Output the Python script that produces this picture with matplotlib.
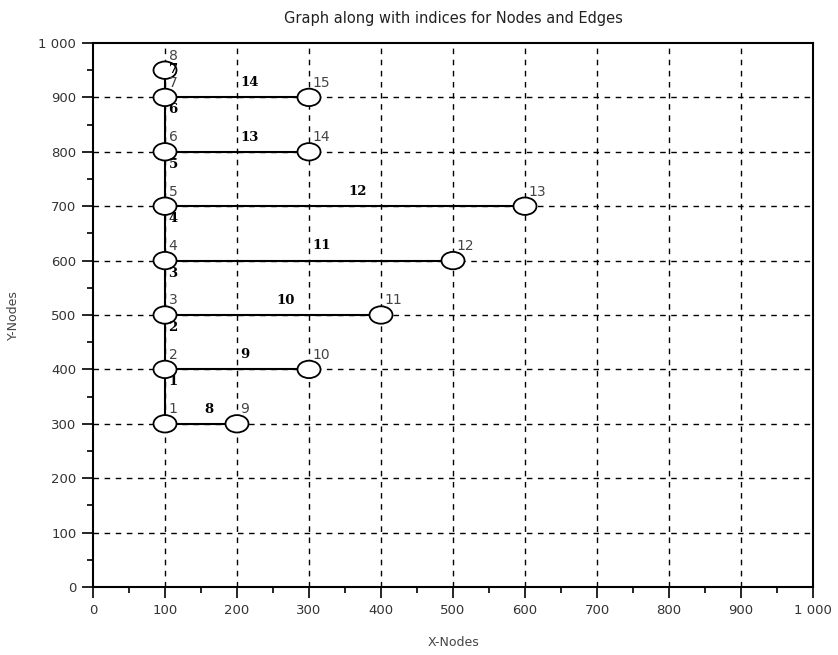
import matplotlib
matplotlib.use("Agg")
import matplotlib.pyplot as plt
from matplotlib.patches import Ellipse
from matplotlib.ticker import FuncFormatter, MultipleLocator

# Node coordinates (index = node number - 1)
node_x = [100, 100, 100, 100, 100, 100, 100, 100, 200, 300, 400, 500, 600, 300, 300]
node_y = [300, 400, 500, 600, 700, 800, 900, 950, 300, 400, 500, 600, 700, 800, 900]

# Edges as (tail, head) node numbers; edge number = position + 1
edge_tail = [1, 2, 3, 4, 5, 6, 7, 1, 2, 3, 4, 5, 6, 7]
edge_head = [2, 3, 4, 5, 6, 7, 8, 9, 10, 11, 12, 13, 14, 15]

x_ticks = list(range(0, 1001, 100))
y_ticks = list(range(0, 1001, 100))

node_diameter = 32
label_dx, label_dy = 5, 27

fig = plt.figure(figsize=(8.38, 6.55), dpi=100)
ax = fig.add_axes([93 / 838, 68 / 655, 720 / 838, 544 / 655])
ax.set_xlim(0, 1000)
ax.set_ylim(0, 1000)

# dashed grid at the inner major ticks
for v in x_ticks[1:-1]:
    ax.plot([v, v], [0, 1000], color="black", lw=1.0, ls=(0, (4, 4)), zorder=1)
for v in y_ticks[1:-1]:
    ax.plot([0, 1000], [v, v], color="black", lw=1.0, ls=(0, (4, 4)), zorder=1)

# edges
for i, (t, h) in enumerate(zip(edge_tail, edge_head)):
    x0, y0 = node_x[t - 1], node_y[t - 1]
    x1, y1 = node_x[h - 1], node_y[h - 1]
    ax.plot([x0, x1], [y0, y1], color="black", lw=1.5, zorder=2,
            solid_capstyle="butt")
    mx, my = (x0 + x1) / 2, (y0 + y1) / 2
    ax.text(mx + label_dx, my + label_dy, str(i + 1), ha="left", va="center",
            family="DejaVu Serif", fontweight="bold", fontsize=9.5,
            color="black", zorder=5)

# nodes
for i, (x, y) in enumerate(zip(node_x, node_y)):
    ax.add_patch(Ellipse((x, y), node_diameter, node_diameter, facecolor="white",
                         edgecolor="black", lw=1.3, zorder=3))
    ax.text(x + label_dx, y + label_dy, str(i + 1), ha="left", va="center",
            family="DejaVu Sans", fontsize=10, color="#444444", zorder=5)

fmt = FuncFormatter(lambda v, p: f"{int(v):,}".replace(",", " "))
ax.set_xticks(x_ticks)
ax.set_yticks(y_ticks)
ax.xaxis.set_major_formatter(fmt)
ax.yaxis.set_major_formatter(fmt)
ax.xaxis.set_minor_locator(MultipleLocator(50))
ax.yaxis.set_minor_locator(MultipleLocator(50))
ax.tick_params(which="major", direction="out", length=8, width=1.2,
               labelsize=9.5, labelcolor="#333333", pad=4)
ax.tick_params(which="minor", direction="out", length=4, width=1.2)
for s in ax.spines.values():
    s.set_linewidth(1.5)

fig.text(453 / 838, 1 - 18 / 655, "Graph along with indices for Nodes and Edges",
         ha="center", va="center", fontsize=10.5, color="#222222")
fig.text(453 / 838, 1 - 643 / 655, "X-Nodes", ha="center", va="center",
         fontsize=9, color="#444444")
fig.text(13 / 838, 1 - 315 / 655, "Y-Nodes", ha="center", va="center",
         rotation=90, fontsize=9, color="#444444")

fig.savefig("out.png", dpi=100)
